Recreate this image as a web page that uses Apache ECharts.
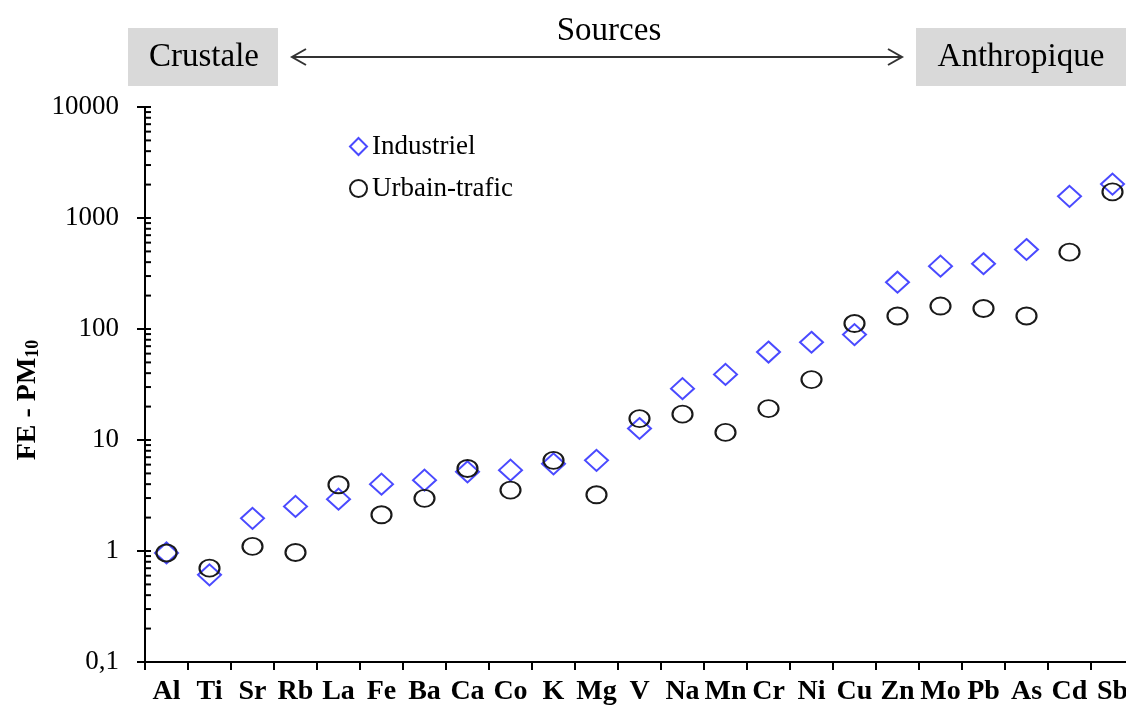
<!DOCTYPE html>
<html>
<head>
<meta charset="utf-8">
<script src="https://cdn.jsdelivr.net/npm/echarts@6/dist/echarts.min.js"></script>
<style>
html,body{margin:0;padding:0;background:#fff;}
#chart{width:1126px;height:706px;}
</style>
</head>
<body>
<div id="chart"></div>
<script>
const categories = ['Al','Ti','Sr','Rb','La','Fe','Ba','Ca','Co','K','Mg','V','Na','Mn','Cr','Ni','Cu','Zn','Mo','Pb','As','Cd','Sb'];
const industriel = [0.96,0.61,1.97,2.52,2.93,4.0,4.35,5.17,5.35,6.1,6.56,12.7,29,39,62,76,89,264,368,387,520,1567,2020];
const urbainTrafic = [0.96,0.70,1.10,0.97,3.95,2.12,2.98,5.54,3.54,6.56,3.21,15.6,17.1,11.7,19.2,35,112,131,161,153,131,492,1718];
const yTickLabels = ['0,1','1','10','100','1000','10000'];
const decades = [0.1,1,10,100,1000];
const minorMultipliers = [2,3,4,5,6,7,8,9];

const tickValues = [];
decades.forEach(d => { tickValues.push([0, d, 1]); minorMultipliers.forEach(m => tickValues.push([0, d*m, 0])); });
tickValues.push([0, 10000, 1]);

const serif = '"Liberation Serif", "Times New Roman", serif';
const chart = echarts.init(document.getElementById('chart'));
chart.setOption({
  animation: false,
  backgroundColor: '#fff',
  grid: {left: 145, top: 107, width: 989, height: 555, containLabel: false, outerBoundsMode: 'none'},
  legend: {
    data: ['Industriel','Urbain-trafic'],
    orient: 'vertical', left: 344, top: 128,
    itemWidth: 17, itemHeight: 17, itemGap: 15,
    textStyle: {fontFamily: serif, fontSize: 27, color: '#000'}
  },
  xAxis: {
    type: 'category', data: categories, boundaryGap: true,
    axisLine: {lineStyle: {color: '#000', width: 2}},
    axisTick: {show: true, length: 8, lineStyle: {color: '#000', width: 2}},
    axisLabel: {interval: 0, margin: 16, fontFamily: serif, fontWeight: 'bold', fontSize: 28, color: '#000'},
    splitLine: {show: false}
  },
  yAxis: {
    type: 'log', logBase: 10, min: 0.1, max: 10000,
    axisLine: {show: true, lineStyle: {color: '#000', width: 2}},
    axisTick: {show: true, length: 8, lineStyle: {color: '#000', width: 2}},
    axisLabel: {margin: 26, fontFamily: serif, fontSize: 27, color: '#000',
      formatter: (v, i) => yTickLabels[i]},
    splitLine: {show: false}
  },
  series: [
    {
      name: 'Industriel', type: 'scatter', data: industriel,
      symbol: 'diamond', symbolSize: [23, 21],
      itemStyle: {color: 'rgba(255,255,255,0)', borderColor: '#4a4aff', borderWidth: 2, opacity: 1}
    },
    {
      name: 'Urbain-trafic', type: 'scatter', data: urbainTrafic,
      symbol: 'circle', symbolSize: [20, 17],
      itemStyle: {color: 'rgba(255,255,255,0)', borderColor: '#1a1a1a', borderWidth: 2, opacity: 1}
    },
    {
      name: 'ticks', type: 'custom', silent: true, clip: false,
      data: tickValues,
      renderItem: function (params, api) {
        const pt = api.coord([0, api.value(1)]);
        const x0 = params.coordSys.x;
        const len = 6;
        return {type: 'line', shape: {x1: x0, y1: pt[1], x2: x0 + len, y2: pt[1]},
          style: {stroke: '#000', lineWidth: 2}};
      }
    }
  ],
  graphic: [
    {type: 'rect', shape: {x: 128, y: 28, width: 150, height: 58}, style: {fill: '#d9d9d9'}},
    {type: 'rect', shape: {x: 916, y: 28, width: 210, height: 58}, style: {fill: '#d9d9d9'}},
    {type: 'text', x: 204, y: 57, style: {text: 'Crustale', font: '33px ' + serif, fill: '#000', align: 'center', verticalAlign: 'middle'}},
    {type: 'text', x: 1021, y: 57, style: {text: 'Anthropique', font: '33px ' + serif, fill: '#000', align: 'center', verticalAlign: 'middle'}},
    {type: 'text', x: 609, y: 31, style: {text: 'Sources', font: '33px ' + serif, fill: '#000', align: 'center', verticalAlign: 'middle'}},
    {type: 'polyline', shape: {points: [[292, 57], [902, 57]]}, style: {stroke: '#333', lineWidth: 2}},
    {type: 'polyline', shape: {points: [[306, 49], [292, 57], [306, 65]]}, style: {stroke: '#333', lineWidth: 2, fill: null}},
    {type: 'polyline', shape: {points: [[888, 49], [902, 57], [888, 65]]}, style: {stroke: '#333', lineWidth: 2, fill: null}},
    {type: 'text', x: 28, y: 400, rotation: Math.PI / 2,
      style: {text: '{a|FE - PM}{b|10}', align: 'center', verticalAlign: 'middle',
        rich: {a: {fontFamily: serif, fontWeight: 'bold', fontSize: 28, lineHeight: 28, fill: '#000', color: '#000'},
               b: {fontFamily: serif, fontWeight: 'bold', fontSize: 18, lineHeight: 18, verticalAlign: 'bottom', padding: [10, 0, 0, 0], fill: '#000', color: '#000'}}}}
  ]
});
</script>
</body>
</html>
